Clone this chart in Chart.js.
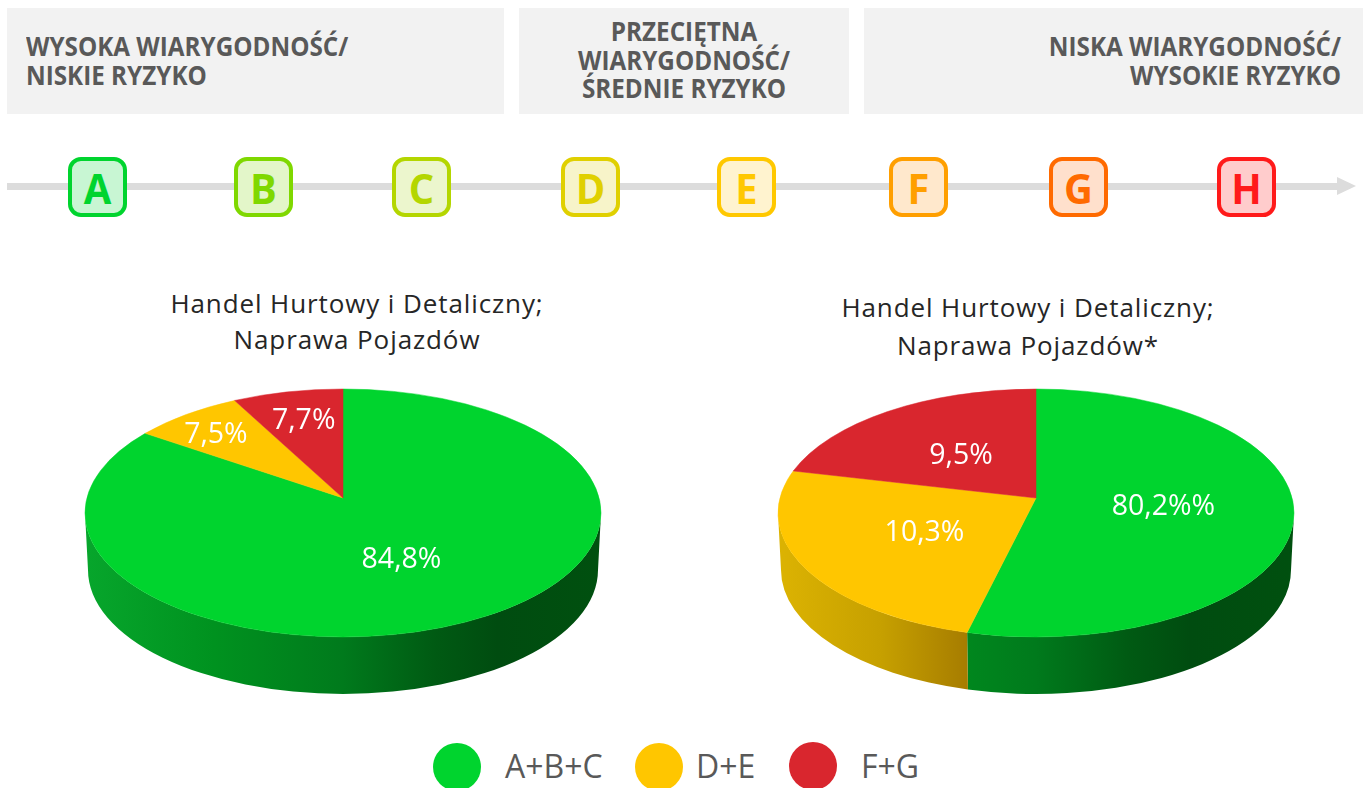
<!DOCTYPE html>
<html lang="pl">
<head>
<meta charset="utf-8">
<title>Wiarygodność</title>
<script src="https://cdn.jsdelivr.net/npm/chart.js@4"></script>
<style>
html, body { margin: 0; padding: 0; background: #fff; }
body { position: relative; width: 1363px; height: 788px; overflow: hidden; font-family: "Open Sans", sans-serif; }
.box { position: absolute; top: 8px; height: 106px; background: #f2f2f2; color: #595959; font-weight: 700; font-size: 26.5px; line-height: 28.5px; box-sizing: border-box; white-space: pre-line; }
.box span { display: block; transform: scaleX(0.915); }
.axis { position: absolute; left: 7px; top: 183px; width: 1330px; height: 7px; background: #dcdcdc; }
.arrow { position: absolute; left: 1337px; top: 177px; width: 0; height: 0; border-left: 19px solid #dcdcdc; border-top: 9.5px solid transparent; border-bottom: 9.5px solid transparent; }
.badge { position: absolute; top: 157px; width: 59px; height: 60px; box-sizing: border-box; border: 4px solid; border-radius: 13px; text-align: center; font-weight: 700; font-size: 42px; line-height: 54px; }
.badge span { display: block; transform: scaleX(0.95); }
.title { position: absolute; color: #262626; font-size: 26px; text-align: center; width: 600px; white-space: pre-line; letter-spacing: 0.9px; }
canvas { position: absolute; top: 0; }
.dot { position: absolute; width: 48px; height: 48px; border-radius: 50%; }
.key { position: absolute; top: 744px; color: #595959; font-size: 32px; line-height: 44px; white-space: nowrap; }
</style>
</head>
<body>
<div id="page"></div>
<canvas id="pieLeft" width="686" height="788" style="left:0"></canvas>
<canvas id="pieRight" width="654" height="788" style="left:709px"></canvas>
<script>
const groups = ["A+B+C", "D+E", "F+G"]
const groupColors = ["#00d42e", "#ffc600", "#d9262e"]

// udzialy wycinkow (nie zgadzaja sie z podpisami po prawej)
const sharesLeft = [86.1, 7.0, 6.9]
const sharesRight = [54.3, 26.2, 19.5]
const labelsLeft = ["84,8%", "7,5%", "7,7%"]
const labelsRight = ["80,2%%", "10,3%", "9,5%"]
const titleText = "Handel Hurtowy i Detaliczny;\nNaprawa Pojazdów"
const titleTextRight = "Handel Hurtowy i Detaliczny;\nNaprawa Pojazdów*"

const boxTexts = ["WYSOKA WIARYGODNOŚĆ/\nNISKIE RYZYKO", "PRZECIĘTNA\nWIARYGODNOŚĆ/\nŚREDNIE RYZYKO", "NISKA WIARYGODNOŚĆ/\nWYSOKIE RYZYKO"]
const badgeLetters = ["A", "B", "C", "D", "E", "F", "G", "H"]
const badgeColors = ["#00d42e", "#7fd800", "#b4d600", "#e0d000", "#ffc800", "#ff9f00", "#ff6a00", "#ff1a1a"]
const badgeFills = ["#c8f6d3", "#e3f6c9", "#ecf6cd", "#f7f4c9", "#fff3cf", "#ffe8cc", "#ffe0cc", "#ffcccc"]

// uklad strony
const badgeLefts = [68, 234, 392, 561, 717, 889, 1049, 1217]
const boxStyles = [
    "left:7px;width:497px;padding:24px 0 0 19px",
    "left:519px;width:330px;padding:9px 0 0;text-align:center",
    "left:864px;width:499px;padding:24px 22px 0 0;text-align:right"
]
const boxOrigins = ["left", "center", "right"]
const dotSpots = [[433, 743], [635, 743], [789, 742]]
const keyLefts = [505, 696, 861]

// gradient sciany bocznej, ulamki szerokosci tortu
const wallStops = {
    "#00d42e": [[0, "#07a62c"], [0.25, "#00921f"], [0.5, "#007a1c"], [0.68, "#005a13"], [0.8, "#004c10"], [1, "#00500f"]],
    "#ffc600": [[0, "#dcb302"], [0.2, "#c6a000"], [0.37, "#a67c00"]],
    "#d9262e": [[0, "#8f1a1e"], [1, "#5f1014"]]
}
const tilt = 124 / 258
const apexLift = 15
const wallDepth = 57
const wallInset = 3

function addEl(cls, css, text) {
    let el = document.createElement("div")
    el.className = cls
    el.style.cssText = css
    if (text) el.textContent = text
    document.getElementById("page").appendChild(el)
    return el
}

function buildPage() {
    boxTexts.forEach((t, i) => {
        let box = addEl("box", boxStyles[i])
        let inner = document.createElement("span")
        inner.textContent = t
        inner.style.transformOrigin = boxOrigins[i]
        box.appendChild(inner)
    })
    addEl("axis", "")
    addEl("arrow", "")
    badgeLetters.forEach((l, i) => {
        let badge = addEl("badge", `left:${badgeLefts[i]}px;border-color:${badgeColors[i]};background:${badgeFills[i]};color:${badgeColors[i]}`)
        let inner = document.createElement("span")
        inner.textContent = l
        badge.appendChild(inner)
    })
    addEl("title", "left:57px;top:285px;line-height:36px", titleText)
    addEl("title", "left:728px;top:288px;line-height:38px", titleTextRight)
    groups.forEach((g, i) => {
        addEl("dot", `left:${dotSpots[i][0]}px;top:${dotSpots[i][1]}px;background:${groupColors[i]}`)
        addEl("key", `left:${keyLefts[i]}px`, g)
    })
}

// tort 3D: katy bierzemy z elementow Chart.js, rysujemy splaszczone z przesunietym srodkiem
const flatPie = {
    id: "flatPie",
    beforeDatasetDraw(chart, args) {
        let ctx = chart.ctx
        let arcs = args.meta.data
        let first = arcs[0]
        let cx = first.x, cy = first.y, rx = first.outerRadius, ry = rx * tilt

        // sciana boczna, tylko dolna polowa elipsy
        arcs.forEach((arc, i) => {
            let color = groupColors[i]
            for (let k of [0, 2 * Math.PI]) {
                let a0 = Math.max(arc.startAngle - k, 0)
                let a1 = Math.min(arc.endAngle - k, Math.PI)
                if (a1 <= a0) continue
                let grad = ctx.createLinearGradient(cx - rx, 0, cx + rx, 0)
                wallStops[color].forEach(s => grad.addColorStop(s[0], s[1]))
                ctx.beginPath()
                ctx.ellipse(cx, cy, rx, ry, 0, a0, a1)
                ctx.ellipse(cx, cy + wallDepth, rx - wallInset, ry, 0, a1, a0, true)
                ctx.closePath()
                ctx.fillStyle = grad
                ctx.fill()
            }
        })

        // wierzch
        arcs.forEach((arc, i) => {
            ctx.beginPath()
            ctx.moveTo(cx, cy - apexLift)
            ctx.ellipse(cx, cy, rx, ry, 0, arc.startAngle, arc.endAngle)
            ctx.closePath()
            ctx.fillStyle = groupColors[i]
            ctx.strokeStyle = groupColors[i]
            ctx.lineWidth = 0.5
            ctx.fill()
            ctx.stroke()
        })
        return false
    },
    // po return false powyzej afterDatasetDraw juz nie jest wolane
    afterDatasetsDraw(chart) {
        let ctx = chart.ctx
        let ds = chart.data.datasets[0]
        chart.getDatasetMeta(0).data.forEach((arc, i) => {
            let mid = (arc.startAngle + arc.endAngle) / 2
            let rx = arc.outerRadius, ry = rx * tilt
            let rimX = arc.x + rx * Math.cos(mid)
            let rimY = arc.y + ry * Math.sin(mid)
            let apexY = arc.y - apexLift
            let x = arc.x + 0.6 * (rimX - arc.x) + ds.labelNudge[i][0]
            let y = apexY + 0.6 * (rimY - apexY) + ds.labelNudge[i][1]
            ctx.save()
            ctx.fillStyle = "#fff"
            ctx.font = '28.5px "Open Sans"'
            ctx.textAlign = "center"
            ctx.textBaseline = "middle"
            ctx.fillText(ds.sliceLabels[i], x, y)
            ctx.restore()
        })
    }
}

function makePie(id, shares, sliceLabels, labelNudge) {
    return new Chart(document.getElementById(id), {
        type: "pie",
        data: {
            labels: groups,
            datasets: [{ data: shares, backgroundColor: groupColors, borderWidth: 0, sliceLabels, labelNudge }]
        },
        options: {
            responsive: false,
            animation: false,
            layout: { padding: { top: 255, bottom: 17 } },
            plugins: { legend: { display: false }, tooltip: { enabled: false } }
        },
        plugins: [flatPie]
    })
}

buildPage()
makePie("pieLeft", sharesLeft, labelsLeft, [[-7, -15], [-33, -13], [-6, -13]])
makePie("pieRight", sharesRight, labelsRight, [[-26, -10], [26, -8], [14, 10]])
</script>
</body>
</html>
